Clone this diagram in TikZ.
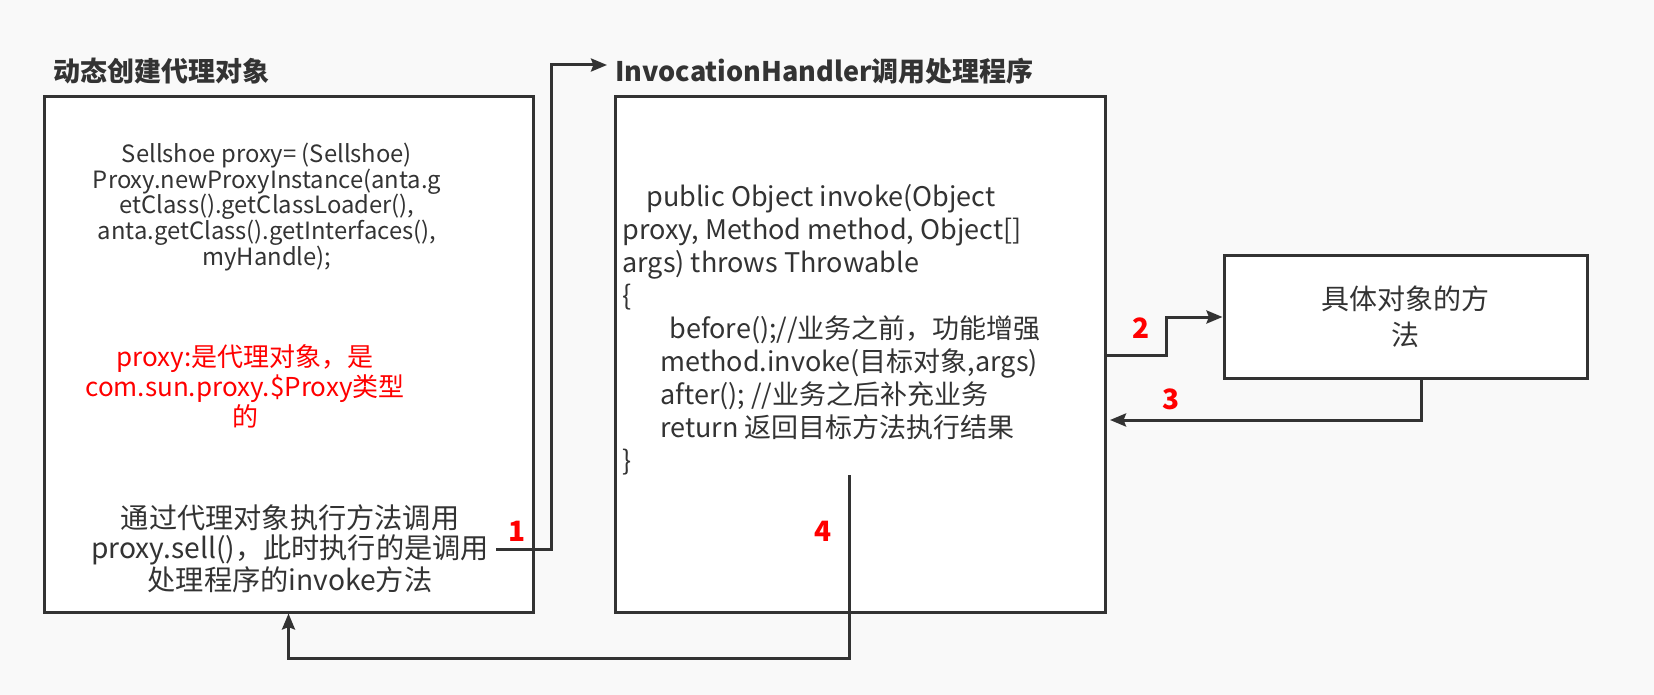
\documentclass[tikz,border=0pt]{standalone}
\usepackage{fontspec}
\setmainfont{Noto Sans CJK SC}
\usetikzlibrary{arrows.meta,fit,positioning}
\definecolor{ink}{HTML}{333333}
\definecolor{paper}{HTML}{F9F9F9}
\definecolor{mark}{HTML}{FF0000}

\begin{document}
\begin{tikzpicture}[x=0.5pt,y=-0.5pt,
    box/.style={draw=ink,fill=white,line width=1.5pt,inner sep=0pt},
    flow/.style={draw=ink,line width=1.5pt,-{Stealth[length=8pt,width=6.5pt,inset=1.2pt]}},
    txt/.style={text=ink,inner sep=0pt},
    num/.style={text=mark,font=\fontsize{14}{16}\selectfont\bfseries,inner sep=0pt}]
  \useasboundingbox[fill=paper] (0,0) rectangle (1654,695);

  % boxes
  \node[box,fit={(44,97) (533,612)}] (lbox) {};
  \node[box,fit={(615,97) (1105,612)}] (mbox) {};
  \node[box,fit={(1224,256) (1587,378)}] (rbox) {};

  % titles
  \node[txt,anchor=west,font=\fontsize{13.5}{16}\selectfont\bfseries] (ptitle) at (53,71) {动态创建代理对象};
  \node[txt,anchor=west,font=\fontsize{13.5}{16}\selectfont\bfseries] (htitle) at (615,71) {InvocationHandler调用处理程序};

  % left box
  \node[txt,align=center,font=\fontsize{11.9}{12.8}\selectfont] (code) at (267,207)
    {Sellshoe proxy= (Sellshoe)\\Proxy.newProxyInstance(anta.g\\etClass().getClassLoader(),\\anta.getClass().getInterfaces(),\\myHandle);};
  \node[txt,text=mark,align=center,font=\fontsize{13}{13.6}\selectfont] (note) at (245,386)
    {proxy:是代理对象，是\\com.sun.proxy.\$Proxy类型\\的};
  \node[txt,align=center,font=\fontsize{14.1}{14.75}\selectfont] (call) at (290,549)
    {通过代理对象执行方法调用\\proxy.sell()，此时执行的是调用\\处理程序的invoke方法};

  % middle box
  \node[txt,anchor=west,align=left,font=\fontsize{13.5}{16.5}\selectfont] (invoke) at (622,330)
    {\hspace*{12pt}public Object invoke(Object\\proxy, Method method, Object[]\\args) throws Throwable\\\{\\
     \hspace*{23.5pt}before();//业务之前，功能增强\\
     \hspace*{19pt}method.invoke(目标对象,args)\\
     \hspace*{19pt}after(); //业务之后补充业务\\
     \hspace*{19pt}return 返回目标方法执行结果\\\}};

  % right box
  \node[txt,align=center,font=\fontsize{14}{18}\selectfont] (target) at (rbox.center) {具体对象的方\\法};

  % connectors
  \coordinate (c1) at (496,549);
  \coordinate (c2) at (1105,355);
  \coordinate (c3) at (1110,420);
  \coordinate (c4) at (849,475);
  \draw[flow] (c1) -- ++(55,0) |- ([xshift=-4pt,yshift=3pt]htitle.west);
  \draw[flow] (c2) -- ++(61,0) |- (rbox.west);
  \draw[flow] ([xshift=8pt]rbox.south) |- (c3);
  \draw[flow] (c4) -- ++(0,183) -| (lbox.south);

  % step numbers
  \node[num] (n1) at (517,531) {1};
  \node[num] (n2) at (1141,328) {2};
  \node[num] (n3) at (1171,399) {3};
  \node[num] (n4) at (823,531) {4};
\end{tikzpicture}
\end{document}
